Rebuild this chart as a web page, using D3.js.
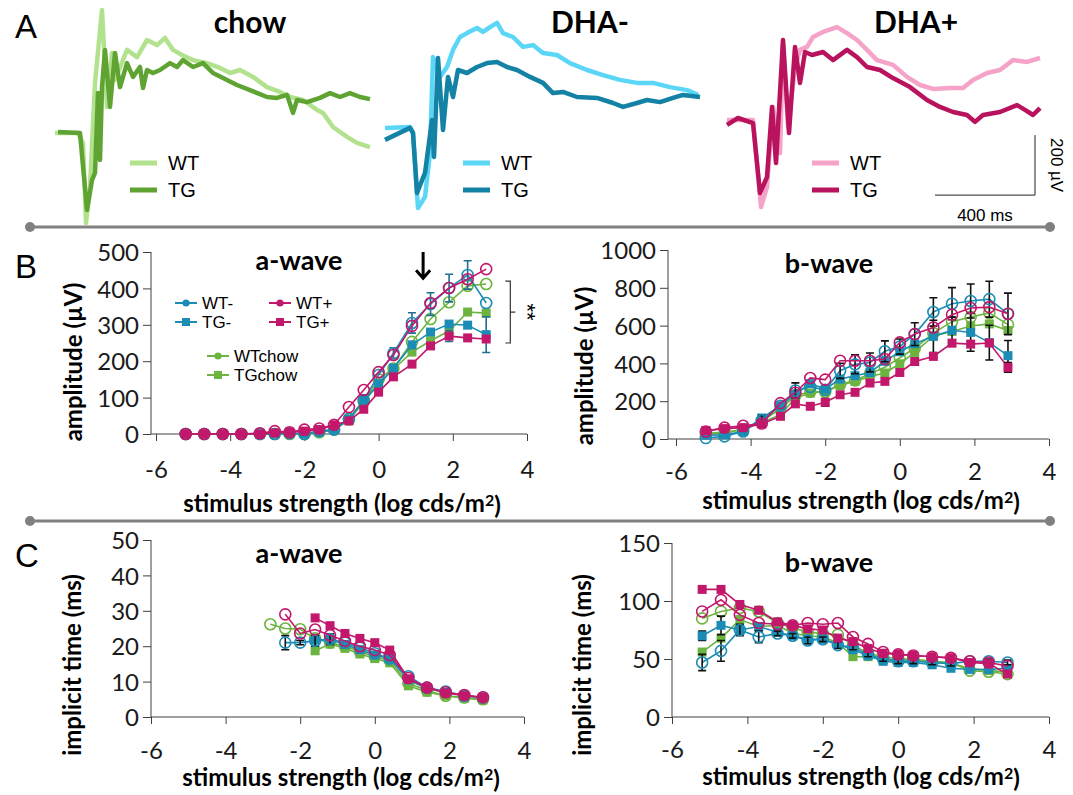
<!DOCTYPE html>
<html>
<head>
<meta charset="utf-8">
<script src="https://cdn.jsdelivr.net/npm/d3@7/dist/d3.min.js"></script>
<style>
	body { margin: 0; background: #fff; }
	svg { display: block; }
</style>
</head>
<body>
<div id="chart"></div>
<script>
(function () {
	"use strict";

	// ---- panel A: averaged ERG traces, [time (ms), amplitude (µV)]
	var chowWT = [[0,-10],[92,-10],[112,-43],[124,-310],[140,-190],[160,157],[188,400],[208,77],[228,257],[240,167],[288,267],[328,243],[368,300],[408,283],[440,307],[472,267],[508,250],[552,233],[608,223],[660,207],[700,190],[740,200],[792,177],[848,143],[900,127],[940,110],[992,100],[1048,67],[1072,57],[1112,10],[1168,-23],[1208,-43],[1260,-57]];
	var chowTG = [[12,-7],[100,-10],[128,-267],[148,-167],[160,-143],[172,123],[180,-100],[188,143],[200,267],[220,77],[240,257],[260,143],[288,223],[312,177],[340,210],[352,140],[368,200],[392,190],[420,200],[460,223],[488,210],[512,233],[552,210],[592,223],[632,190],[688,167],[728,150],[780,133],[848,110],[888,107],[928,117],[952,57],[968,100],[1008,93],[1060,107],[1100,123],[1140,110],[1180,123],[1220,110],[1260,103]];
	var dhaMinusWT = [[0,7],[100,10],[112,-10],[132,-260],[160,-223],[180,-77],[192,243],[220,177],[248,210],[272,267],[300,310],[328,323],[368,340],[392,327],[420,343],[448,357],[472,323],[512,310],[552,277],[592,283],[632,257],[688,250],[740,223],[808,200],[872,183],[940,167],[1008,157],[1072,157],[1140,143],[1208,133],[1252,117]];
	var dhaMinusTG = [[0,-33],[100,7],[112,-10],[128,-210],[160,-143],[188,33],[196,-90],[212,240],[232,0],[252,177],[272,110],[292,200],[328,190],[368,210],[408,223],[448,227],[488,210],[528,200],[580,177],[632,157],[672,123],[712,127],[768,110],[848,107],[912,90],[952,77],[1008,90],[1048,100],[1100,93],[1152,107],[1192,117],[1260,110]];
	var dhaPlusWT = [[0,33],[104,33],[136,-257],[160,-190],[184,77],[212,-77],[224,290],[244,10],[272,210],[292,267],[320,277],[344,310],[384,327],[440,343],[480,323],[520,300],[560,267],[600,233],[664,217],[720,177],[772,150],[824,137],[892,140],[944,140],[984,167],[1040,190],[1092,200],[1144,233],[1200,227],[1252,240]];
	var dhaPlusTG = [[0,17],[44,40],[104,23],[132,-210],[160,-157],[180,77],[196,-110],[224,300],[248,-10],[272,277],[292,157],[312,260],[340,250],[384,260],[424,233],[480,267],[520,243],[560,210],[612,200],[664,173],[732,143],[800,100],[852,77],[904,60],[960,50],[992,27],[1024,50],[1092,60],[1160,83],[1192,67],[1224,50],[1252,73]];

	// ---- panels B/C: stimulus strength (log cds/m²)
	var stimulus = [-5.2, -4.7, -4.2, -3.7, -3.2, -2.8, -2.4, -2.0, -1.6, -1.2, -0.8, -0.4, 0, 0.4, 0.9, 1.4, 1.9, 2.4, 2.9];
	var xTicks = [-6, -4, -2, 0, 2, 4];

	// a-wave amplitude (µV)
	var aAmpWTchow = [0,0,0,0,0,0,0,0,5,12,40,90,150,180,253,316,362,407,412];
	var aAmpTGchow = [0,0,0,0,0,0,0,0,5,12,38,88,138,178,225,256,283,335,332];
	var aAmpWTm = [0,0,0,0,0,0,2,0,8,12,42,93,162,222,305,357,401,437,360];
	var aAmpTGm = [0,0,0,0,0,1,2,1,6,12,40,93,135,181,245,280,302,299,273];
	var aAmpWTp = [0,0,0,0,2,8,5,12,15,25,74,121,170,217,297,360,401,425,453];
	var aAmpTGp = [0,0,0,0,0,3,5,8,12,25,36,68,115,157,192,242,269,264,261];
	var aAmpErrWTm = [0,0,0,0,0,0,0,0,0,0,0,0,0,15,28,31,38,39,0];
	var aAmpErrTGm = [0,0,0,0,0,0,0,0,0,0,0,0,0,0,0,0,0,0,49];
	var aAmpErrTGp = [0,0,0,0,0,0,0,0,0,0,0,0,0,0,0,0,15,0,0];

	// b-wave amplitude (µV)
	var bAmpWTchow = [30,35,50,95,160,230,250,250,290,310,345,380,430,480,560,621,645,667,605];
	var bAmpTGchow = [25,30,53,88,128,217,243,252,283,305,331,349,398,458,545,569,598,609,574];
	var bAmpWTm = [5,14,40,100,176,257,275,260,361,395,405,464,489,555,672,716,730,740,662];
	var bAmpTGm = [20,22,40,111,176,238,293,264,317,335,352,411,462,504,543,575,564,510,441];
	var bAmpWTp = [40,60,70,82,190,245,323,314,414,414,414,423,511,555,590,658,693,698,663];
	var bAmpTGp = [45,55,60,80,120,186,173,194,234,247,296,305,352,410,437,507,502,508,379];
	var bAmpErrWTm = [0,0,0,25,0,40,0,0,40,50,50,55,40,60,75,85,90,95,110];
	var bAmpErrTGm = [0,0,0,0,0,0,0,0,0,0,0,0,0,0,85,70,100,92,80];
	var bAmpErrTGp = [0,0,0,0,0,0,0,20,0,0,0,0,0,0,0,0,0,0,25];

	// a-wave implicit time (ms)
	var aTimeWTchow = [null,null,null,null,null,26.2,25,24.8,22.2,21,20,18.5,17,16,9.5,7.5,6,5.5,5];
	var aTimeTGchow = [null,null,null,null,null,null,null,null,18.7,20.6,19.4,17.8,16.5,15.3,8.8,7,6,5.3,4.8];
	var aTimeWTm = [null,null,null,null,null,null,21,21,21.5,22,21,19.6,18,16.5,11.5,8.3,7.2,6,5.5];
	var aTimeTGm = [null,null,null,null,null,null,null,null,21.7,21.9,20.5,19,17.5,16.5,10.5,8,7,6,5.5];
	var aTimeWTp = [null,null,null,null,null,null,29,23.6,24.7,23.1,21.5,20,18.9,17.5,11,8.3,7,6.2,5.6];
	var aTimeTGp = [null,null,null,null,null,null,null,null,28,25.8,23.6,22.2,21,18.9,10.8,8.3,6.8,6,5.5];
	var aTimeErrWTm = [0,0,0,0,0,0,2,0.6,1.5,1.5,0,0,0,0,0,0,0,0,0];

	// b-wave implicit time (ms)
	var bTimeWTchow = [85,91,94,91,81,77,73,72,71,62,55,52,50,50,48,47,40,39,37];
	var bTimeTGchow = [56,68,84,78,79,72,70,69,64,52,52,50,49,49,47,46,42,40,39];
	var bTimeWTm = [47,57,75,69,72,70,66,67,62,60,54,50,48,48,47,46,48,48,47];
	var bTimeTGm = [70,79,75,78,73,70,67,67,63,58,53,48,47,47,45,42,41,41,42];
	var bTimeWTp = [91,101,88,81,80,79,81,80,81,69,63,56,54,53,52,51,48,47,44];
	var bTimeTGp = [110,110,97,92,82,79,76,75,68,65,59,55,54,53,52,51,47,46,37];
	var bTimeErrWTm = [7,9,5,5,2,2,3,2,3,2,2,2,2,2,2,2,2,2,2];
	var bTimeErrTGm = [4,8,4,3,2,2,2,2,2,2,2,2,2,2,2,2,2,2,2];

	var green = "#6cb33f", teal = "#1b8db4", magenta = "#c2186b";
	var fontCal = "Lato, 'Open Sans', sans-serif",
		fontArial = "'Liberation Sans', Arial, sans-serif";

	var svg = d3.select("#chart").append("svg")
		.attr("width", 1073)
		.attr("height", 795);
	svg.append("rect").attr("width", 1073).attr("height", 795).attr("fill", "#fff");

	// ---------- panel A ----------
	var traceY = d3.scaleLinear().domain([-400, 400]).range([250, 10]);
	var traceLine = d3.line().curve(d3.curveLinear);

	function drawTraces(x0, title, titleX, wt, tg, wtColor, tgColor, legendX) {
		var tx = d3.scaleLinear().domain([0, 1280]).range([x0, x0 + 320]);
		traceLine.x(function (d) { return tx(d[0]); }).y(function (d) { return traceY(d[1]); });
		svg.append("path").datum(wt).attr("d", traceLine)
			.attr("fill", "none").attr("stroke", wtColor).attr("stroke-width", 4.5)
			.attr("stroke-linejoin", "round");
		svg.append("path").datum(tg).attr("d", traceLine)
			.attr("fill", "none").attr("stroke", tgColor).attr("stroke-width", 4.5)
			.attr("stroke-linejoin", "round");
		svg.append("text").attr("x", titleX).attr("y", 33)
			.attr("text-anchor", "middle")
			.style("font-family", fontCal).style("font-weight", "bold").style("font-size", "30px")
			.text(title);
		[["WT", wtColor, 163], ["TG", tgColor, 190]].forEach(function (it) {
			svg.append("line").attr("x1", legendX).attr("x2", legendX + 27)
				.attr("y1", it[2]).attr("y2", it[2])
				.attr("stroke", it[1]).attr("stroke-width", 5);
			svg.append("text").attr("x", legendX + 38).attr("y", it[2])
				.attr("dy", "0.36em")
				.style("font-family", fontArial).style("font-size", "20px")
				.text(it[0]);
		});
		return tx;
	}

	drawTraces(55, "chow", 250, chowWT, chowTG, "#b3e28f", "#5fa433", 130);
	drawTraces(385, "DHA-", 590, dhaMinusWT, dhaMinusTG, "#5cd6f7", "#1382a4", 463);
	var plusX = drawTraces(727, "DHA+", 916, dhaPlusWT, dhaPlusTG, "#f5a3c9", "#b8135c", 812);

	// scale bar: 400 ms x 200 µV
	var barT = 1232, barV = -217;
	svg.append("path")
		.attr("d", "M" + plusX(barT - 400) + "," + traceY(barV) +
			"H" + plusX(barT) + "V" + traceY(barV + 200))
		.attr("fill", "none").attr("stroke", "#222").attr("stroke-width", 1);
	svg.append("text").attr("x", plusX(barT - 200)).attr("y", 221)
		.attr("text-anchor", "middle")
		.style("font-family", fontArial).style("font-size", "17px")
		.text("400 ms");
	svg.append("text")
		.attr("transform", "translate(1051," + traceY(barV + 100) + ") rotate(90)")
		.attr("text-anchor", "middle")
		.style("font-family", fontArial).style("font-size", "17px")
		.text("200 µV");

	// ---------- separators ----------
	[227, 521].forEach(function (yy) {
		svg.append("line").attr("x1", 30).attr("x2", 1050).attr("y1", yy).attr("y2", yy)
			.attr("stroke", "#808080").attr("stroke-width", 3);
		svg.append("circle").attr("cx", 30).attr("cy", yy).attr("r", 5).attr("fill", "#808080");
		svg.append("circle").attr("cx", 1050).attr("cy", yy).attr("r", 5).attr("fill", "#808080");
	});

	// panel letters
	[["A", 26], ["B", 266], ["C", 555]].forEach(function (l) {
		svg.append("text").attr("x", 15).attr("y", l[1] + 12)
			.style("font-family", fontArial).style("font-size", "33px")
			.text(l[0]);
	});

	// ---------- panels B and C ----------
	function buildSeries(wtChow, tgChow, wtM, tgM, wtP, tgP, errs) {
		errs = errs || {};
		return [
			{ name: "TGchow", color: green, open: false, values: tgChow, err: errs.TGchow },
			{ name: "WTchow", color: green, open: true, values: wtChow, err: errs.WTchow },
			{ name: "TG-", color: teal, open: false, values: tgM, err: errs["TG-"] },
			{ name: "WT-", color: teal, open: true, values: wtM, err: errs["WT-"] },
			{ name: "TG+", color: magenta, open: false, values: tgP, err: errs["TG+"] },
			{ name: "WT+", color: magenta, open: true, values: wtP, err: errs["WT+"] }
		];
	}

	function drawPanel(p) {
		var x = d3.scaleLinear().domain([-6, 4]).range([p.left, p.right]),
			y = d3.scaleLinear().domain([0, p.yMax]).range([p.bottom, p.top]),
			g = svg.append("g");

		// axes
		var yAxis = d3.axisLeft(y).tickValues(p.yTicks).tickSize(8).tickSizeOuter(0).tickPadding(4)
			.tickFormat(function (d) { return String(d); });
		var ya = g.append("g").attr("transform", "translate(" + p.axisX + ",0)").call(yAxis);
		var xAxis = d3.axisBottom(x).tickValues(xTicks).tickSize(7).tickSizeOuter(0)
			.tickFormat(function (d) { return String(d); });
		var xa = g.append("g").attr("transform", "translate(0," + p.bottom + ")").call(xAxis);
		[ya, xa].forEach(function (a) {
			a.select(".domain").remove();
			a.selectAll("line").attr("stroke", "#404040");
			a.selectAll("text").attr("fill", "#1a1a1a")
				.style("font-family", fontCal).style("font-size", "24px");
		});
		ya.selectAll("text").attr("dy", "0.36em");
		xa.selectAll("text").attr("y", p.xLabelOff).attr("dy", "0.36em");
		g.append("line").attr("x1", p.axisX).attr("x2", p.axisX)
			.attr("y1", p.top).attr("y2", p.bottom).attr("stroke", "#404040");
		g.append("line").attr("x1", p.axisX).attr("x2", p.right)
			.attr("y1", p.bottom).attr("y2", p.bottom).attr("stroke", "#404040");

		// titles
		g.append("text").attr("x", p.titleX).attr("y", p.titleY).attr("text-anchor", "middle")
			.style("font-family", fontCal).style("font-weight", "bold").style("font-size", "27px")
			.text(p.title);
		g.append("text")
			.attr("transform", "translate(" + p.yTitleX + "," + p.yTitleY + ") rotate(-90)")
			.attr("text-anchor", "middle").attr("dy", "0.36em")
			.style("font-family", fontCal).style("font-weight", "bold").style("font-size", "24px")
			.text(p.yTitle);
		var xt = g.append("text").attr("x", p.xTitleX).attr("y", p.xTitleY)
			.attr("text-anchor", "middle").attr("dy", "0.36em")
			.style("font-family", fontCal).style("font-weight", "bold").style("font-size", "24px");
		xt.append("tspan").text("stimulus strength (log cds/m");
		xt.append("tspan").text("2").attr("dy", "-0.35em").style("font-size", "16px");
		xt.append("tspan").text(")").attr("dy", "0.35em");

		// series
		var line = d3.line()
			.defined(function (d) { return d.v !== null; })
			.x(function (d) { return x(d.x); })
			.y(function (d) { return y(d.v); });
		p.series.forEach(function (s) {
			var pts = stimulus.map(function (sx, i) {
				return { x: sx, v: s.values[i], e: s.err ? s.err[i] : 0 };
			});
			var sg = g.append("g");
			sg.append("path").datum(pts).attr("d", line)
				.attr("fill", "none").attr("stroke", s.color).attr("stroke-width", 1.6);
			pts.filter(function (d) { return d.v !== null && d.e > 0; }).forEach(function (d) {
				var cx = x(d.x), y0 = y(d.v - d.e), y1 = y(d.v + d.e);
				sg.append("path")
					.attr("d", "M" + cx + "," + y0 + "V" + y1 +
						"M" + (cx - 4) + "," + y1 + "H" + (cx + 4) +
						"M" + (cx - 4) + "," + y0 + "H" + (cx + 4))
					.attr("fill", "none").attr("stroke", p.errColor).attr("stroke-width", 1.6);
			});
			var valid = pts.filter(function (d) { return d.v !== null; });
			if (s.open) {
				sg.selectAll("circle").data(valid).enter().append("circle")
					.attr("cx", function (d) { return x(d.x); })
					.attr("cy", function (d) { return y(d.v); })
					.attr("r", 5.5).attr("fill", "none")
					.attr("stroke", s.color).attr("stroke-width", 1.6);
			} else {
				sg.selectAll("rect").data(valid).enter().append("rect")
					.attr("x", function (d) { return x(d.x) - 4.5; })
					.attr("y", function (d) { return y(d.v) - 4.5; })
					.attr("width", 9).attr("height", 9).attr("fill", s.color);
			}
		});
		return { x: x, y: y, g: g };
	}

	var bA = drawPanel({
		left: 156, right: 527, axisX: 151, top: 252, bottom: 434, yMax: 500,
		yTicks: [0, 100, 200, 300, 400, 500], xLabelOff: 35,
		title: "a-wave", titleX: 299, titleY: 270,
		yTitle: "amplitude (µV)", yTitleX: 73, yTitleY: 362, xTitleX: 342, xTitleY: 503,
		errColor: "#1f6f93",
		series: buildSeries(aAmpWTchow, aAmpTGchow, aAmpWTm, aAmpTGm, aAmpWTp, aAmpTGp,
			{ "WT-": aAmpErrWTm, "TG-": aAmpErrTGm, "TG+": aAmpErrTGp })
	});
	drawPanel({
		left: 676, right: 1049, axisX: 668, top: 250, bottom: 439, yMax: 1000,
		yTicks: [0, 200, 400, 600, 800, 1000], xLabelOff: 32,
		title: "b-wave", titleX: 829, titleY: 273,
		yTitle: "amplitude (µV)", yTitleX: 584, yTitleY: 366, xTitleX: 861, xTitleY: 500,
		errColor: "#111",
		series: buildSeries(bAmpWTchow, bAmpTGchow, bAmpWTm, bAmpTGm, bAmpWTp, bAmpTGp,
			{ "WT-": bAmpErrWTm, "TG-": bAmpErrTGm, "TG+": bAmpErrTGp })
	});
	drawPanel({
		left: 151, right: 524, axisX: 151, top: 540, bottom: 717, yMax: 50,
		yTicks: [0, 10, 20, 30, 40, 50], xLabelOff: 33,
		title: "a-wave", titleX: 299, titleY: 563,
		yTitle: "implicit time (ms)", yTitleX: 72, yTitleY: 665, xTitleX: 341, xTitleY: 777,
		errColor: "#111",
		series: buildSeries(aTimeWTchow, aTimeTGchow, aTimeWTm, aTimeTGm, aTimeWTp, aTimeTGp,
			{ "WT-": aTimeErrWTm })
	});
	drawPanel({
		left: 672, right: 1049, axisX: 672, top: 543, bottom: 717, yMax: 150,
		yTicks: [0, 50, 100, 150], xLabelOff: 32,
		title: "b-wave", titleX: 829, titleY: 572,
		yTitle: "implicit time (ms)", yTitleX: 582, yTitleY: 665, xTitleX: 861, xTitleY: 776,
		errColor: "#111",
		series: buildSeries(bTimeWTchow, bTimeTGchow, bTimeWTm, bTimeTGm, bTimeWTp, bTimeTGp,
			{ "WT-": bTimeErrWTm, "TG-": bTimeErrTGm })
	});

	// legend of panel B a-wave
	var legendItems = [
		{ name: "WT-", color: teal, open: true, lx: 175, ly: 303 },
		{ name: "TG-", color: teal, open: false, lx: 175, ly: 322 },
		{ name: "WT+", color: magenta, open: true, lx: 269, ly: 303 },
		{ name: "TG+", color: magenta, open: false, lx: 269, ly: 322 },
		{ name: "WTchow", color: green, open: true, lx: 207, ly: 356 },
		{ name: "TGchow", color: green, open: false, lx: 207, ly: 375 }
	];
	legendItems.forEach(function (it) {
		svg.append("line").attr("x1", it.lx).attr("x2", it.lx + 22)
			.attr("y1", it.ly).attr("y2", it.ly)
			.attr("stroke", it.color).attr("stroke-width", 2);
		if (it.open) {
			svg.append("circle").attr("cx", it.lx + 11).attr("cy", it.ly).attr("r", 3.6).attr("fill", it.color);
		} else {
			svg.append("rect").attr("x", it.lx + 7).attr("y", it.ly - 4).attr("width", 8).attr("height", 8).attr("fill", it.color);
		}
		svg.append("text").attr("x", it.lx + 27).attr("y", it.ly).attr("dy", "0.35em")
			.style("font-family", fontArial).style("font-size", "17px")
			.text(it.name);
	});

	// arrow marking the stimulus used in panel A
	var ax = bA.x(1.2);
	svg.append("path")
		.attr("d", "M" + ax + "," + bA.y(500) + "V" + bA.y(428) +
			"M" + (ax - 7) + "," + bA.y(450) + "L" + ax + "," + bA.y(428) + "L" + (ax + 7) + "," + bA.y(450))
		.attr("fill", "none").attr("stroke", "#000").attr("stroke-width", 3);

	// significance bracket
	var bx = bA.x(3.55);
	svg.append("path")
		.attr("d", "M" + (bx - 5) + "," + bA.y(420) + "H" + bx + "V" + bA.y(250) + "H" + (bx - 5) +
			"M" + bx + "," + bA.y(335) + "H" + (bx + 5))
		.attr("fill", "none").attr("stroke", "#333").attr("stroke-width", 1.2);
	svg.append("text")
		.attr("transform", "translate(" + (bx + 10) + "," + bA.y(335) + ") rotate(90)")
		.attr("text-anchor", "middle")
		.style("font-family", fontArial).style("font-size", "22px")
		.text("**");
})();
</script>
</body>
</html>
